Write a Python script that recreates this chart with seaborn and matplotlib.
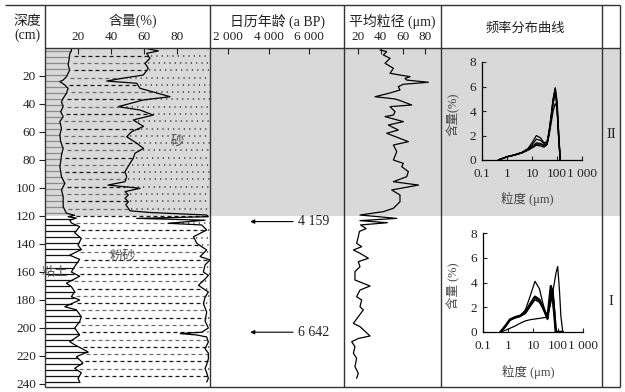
import numpy as np
import pandas as pd
import matplotlib
matplotlib.use("Agg")
import matplotlib.pyplot as plt
import seaborn as sns
from matplotlib.ticker import NullLocator

# ---------------- data ----------------
depth_ticks = [20, 40, 60, 80, 100, 120, 140, 160, 180, 200, 220, 240]
zone_boundary = 120
zone_names = ["II", "I"]
zone_label_depths = [62, 181]

# cumulative clay content (%) vs depth (cm)
clay_depth = [0, 2, 4, 7.5, 12, 15.7, 20.5, 22.9, 24, 26.4,
              28.8, 32.4, 35.9, 38.3, 41.9, 45.5, 49, 52.6, 57.4, 62,
              66.9, 71.7, 76.4, 81.2, 84.8, 91.9, 96.7, 101.4, 106.2, 113.4,
              118, 119.5, 120.5, 121.5, 123, 125, 127.6, 132, 136, 140.7,
              144, 148, 151, 156, 160, 163, 168, 170.5, 174, 177.6,
              180, 184.8, 187, 192, 195.5, 200, 205, 209.8, 212, 217,
              220.5, 225, 228.8, 232, 236, 238.4]
clay_pct = [16, 16, 15, 14.7, 14, 15, 13, 11, 9, 12,
            14, 13, 11, 10, 11, 9.5, 11, 9, 10, 9,
            9.5, 11, 10, 9.5, 9, 10, 12, 10, 11, 11,
            13, 18, 14, 19, 15, 16, 21, 18, 22, 20,
            22, 15, 21, 18, 16, 21, 13, 16, 18, 16,
            21, 12, 19, 22, 21, 18, 21, 15, 18, 26,
            19, 23, 18, 22, 20, 21]

# cumulative clay + silt content (%) vs depth (cm)
silt_depth = [0, 2.1, 3.8, 7.4, 10.9, 14.5, 19.3, 21.7, 23.6, 25.2,
              28.8, 34.8, 37.1, 41.9, 44.3, 47.9, 51.4, 56, 59.8, 63.4,
              68, 71.7, 75.2, 78.8, 82.4, 88.3, 92, 95.5, 97.9, 100.2,
              102.6, 105, 107.4, 109.8, 112, 114.5, 116.3, 117.5, 119.3,
              120.5, 121.7, 123, 125.2, 126.4, 130, 134.8, 139.5, 144.3, 149,
              151.4, 155, 160, 162.4, 165, 169.5, 174.3, 178, 182.6, 188.6,
              195, 200, 203, 204, 205, 206.4, 210, 214.8, 218, 222,
              226, 229, 232, 236, 238.6]
clay_silt_pct = [60, 68.7, 61.6, 63.6, 60.6, 62.6, 59.6, 46.5, 37.4, 55.6,
                 57.6, 75.8, 59.6, 44.4, 57.6, 65.6, 53.5, 59.7, 52.5, 49.5,
                 55.6, 59.7, 54.5, 53.5, 51.5, 48.5, 49.5, 48.5, 38.2, 57.6,
                 48.5, 50.5, 48.5, 50.5, 49, 50.5, 51.5, 63.6, 98,
                 99, 55.6, 97, 74.7, 95, 98, 90, 92, 98, 94,
                 100, 97, 96, 99, 97, 93, 99, 97, 96, 98,
                 97, 99, 95, 82, 92, 98, 99, 97, 99, 99,
                 98, 97, 98, 99, 98]

# mean grain size (um) vs depth (cm)
grain_depth = [1.4, 2.6, 5, 7.4, 10.9, 14.5, 18.1, 20.5, 21.7, 22.9,
               24.5, 25.9, 27.6, 30, 32.2, 34.8, 36.3, 37.1, 40.7, 41.9,
               45.5, 47.9, 49, 52.6, 55, 58.6, 60.9, 66.9, 69.3, 74,
               80, 82.4, 84.8, 88.3, 91.9, 95.5, 97.9, 101.4, 105, 109.8,
               114.5, 116.9, 119.3, 121.7, 123.3, 124.8, 126.4, 129, 131, 134.8,
               139.5, 141.9, 144.3, 146.6, 150.2, 152.6, 156.2, 159.8, 165.7, 170,
               172.9, 177.6, 180, 184.8, 187.1, 191.9, 196.7, 199, 205.7, 207.5,
               209.8, 213.4, 218.1, 221.6, 227.6, 232.4, 235.9]
grain_mean = [39.4, 45.4, 42.4, 48.4, 43.9, 51.4, 48.4, 66.3, 61.8, 63.3,
              82.7, 60.3, 55.8, 57.3, 48, 35, 52, 55.8, 67.8, 48.4,
              52.9, 51.4, 43.9, 60.3, 46.9, 55.8, 45.4, 64.8, 51.4, 54.4,
              51.4, 60.3, 58.9, 64.8, 63.3, 51.4, 73.9, 49.9, 57.3, 57.3,
              51.4, 42.4, 21.5, 54.4, 21.5, 46, 22, 27, 21, 20,
              18.5, 23, 15.6, 21.5, 29, 20, 21.5, 17, 17, 30.5,
              21.5, 18.5, 23, 21.5, 24.5, 20, 15.6, 21.5, 30.5, 20,
              14.1, 17, 15.6, 18.5, 17, 20, 18.5]

# calendar ages
ages_bp = [4159, 6642]
age_depths = [124, 203]

# frequency distribution curves, zone II
sizes_II = [0.45, 1, 2, 4, 7, 10, 15, 22, 30, 40, 48, 58, 70, 85, 100, 118, 135]
freq_II_a = [0, 0.27, 0.42, 0.62, 0.95, 1.4, 2.0, 1.8, 1.4, 1.5, 2.3, 3.6, 5.0, 5.9, 4.2, 1.5, 0]
freq_II_b = [0, 0.27, 0.42, 0.62, 0.9, 1.25, 1.7, 1.6, 1.35, 1.45, 2.2, 3.5, 4.9, 5.7, 4.4, 1.7, 0]
freq_II_c = [0, 0.26, 0.4, 0.6, 0.85, 1.1, 1.4, 1.35, 1.2, 1.35, 2.1, 3.3, 4.6, 5.4, 4.6, 1.9, 0]
freq_II_d = [0, 0.25, 0.4, 0.58, 0.8, 0.98, 1.2, 1.15, 1.05, 1.25, 2.0, 3.0, 4.0, 4.6, 4.3, 2.0, 0]
freq_II_e = [0, 0.26, 0.41, 0.6, 0.85, 1.05, 1.3, 1.3, 1.15, 1.3, 2.25, 3.4, 4.8, 5.8, 4.8, 1.8, 0]

# frequency distribution curves, zone I
sizes_I = [0.5, 0.8, 1.2, 2, 3, 5, 8, 12, 18, 25, 38, 52, 62, 72, 82, 97, 115, 130, 155]
freq_I_a = [0, 0.5, 1.0, 1.2, 1.3, 1.8, 3.0, 4.1, 3.5, 2.3, 1.0, 3.6, 2.5, 1.2, 0, 0, 0, 0, 0]
freq_I_b = [0, 0.5, 1.0, 1.2, 1.3, 1.6, 2.3, 2.85, 2.6, 2.0, 1.1, 3.7, 2.8, 1.4, 0, 0, 0, 0, 0]
freq_I_c = [0, 0.45, 0.95, 1.15, 1.25, 1.5, 2.1, 2.6, 2.4, 1.9, 1.2, 3.1, 3.3, 1.6, 0, 0, 0, 0, 0]
freq_I_d = [0, 0.5, 1.0, 1.2, 1.3, 1.6, 2.2, 2.75, 2.5, 2.0, 1.3, 2.6, 3.5, 1.8, 0.1, 0, 0, 0, 0]
freq_I_e = [0, 0.15, 0.3, 0.5, 0.7, 0.9, 1.0, 1.05, 1.1, 1.15, 1.2, 2.4, 3.3, 4.0, 4.7, 5.3, 3.3, 1.3, 0]

size_ticks = [0.1, 1, 10, 100, 1000]
size_ticklabels = ["0.1", "1", "10", "100", "1 000"]

# ---------------- style ----------------
sns.set_style("white")
plt.rcParams["font.family"] = ["Liberation Serif", "Noto Sans CJK SC", "DejaVu Sans"]
plt.rcParams["axes.unicode_minus"] = False

W, H = 625, 392
TOP, HDR, BOT = 5, 48, 387
PX_PER_CM = 1.4
DMAX = (BOT - HDR) / PX_PER_CM
GRAY = "#d9d9d9"
LINE = "#333333"
TXT = "#222222"

fig = plt.figure(figsize=(6.25, 3.92), dpi=100)


def rect(x0, y0, x1, y1):
    return [x0 / W, 1 - y1 / H, (x1 - x0) / W, (y1 - y0) / H]


def panel(x0, x1, xlim, ticks=None, ticklabels=None):
    ax = fig.add_axes(rect(x0, HDR, x1, BOT))
    ax.set_facecolor("none")
    ax.set_xlim(*xlim)
    ax.set_ylim(DMAX, 0)
    for s in ax.spines.values():
        s.set_visible(False)
    ax.axhspan(0, zone_boundary, color=GRAY, lw=0, zorder=0)
    ax.xaxis.tick_top()
    if ticks is not None:
        ax.set_xticks(ticks)
        ax.set_xticklabels(ticklabels)
        ax.tick_params(axis="x", direction="in", length=4, width=0.8,
                       pad=3.5, labelsize=9.5, colors=TXT)
    else:
        ax.set_xticks([])
    ax.set_yticks([])
    ax.grid(False)
    return ax


# ---- content panel ----
ax_c = panel(45, 210, (0, 100), [20, 40, 60, 80], ["20", "40", "60", "80"])
ax_c.set_yticks(depth_ticks)
ax_c.set_yticklabels([str(t) for t in depth_ticks])
ax_c.tick_params(axis="y", left=True, direction="out", length=4.5, width=0.8,
                 pad=2, labelsize=9.5, colors=TXT)

rows_clay = np.arange(2, DMAX - 1, 4.3)
clay_at = np.interp(rows_clay, clay_depth, clay_pct)
clay_cols = ["#8c8c8c" if r < zone_boundary else "#111111" for r in rows_clay]
ax_c.hlines(rows_clay, 0, clay_at, colors=clay_cols, lw=0.9, zorder=1)

rows_silt = np.arange(5.5, 238, 5.2)
silt_start = np.interp(rows_silt, clay_depth, clay_pct) + 2.5
silt_end = np.interp(rows_silt, silt_depth, clay_silt_pct)
for i, (r, a, b) in enumerate(zip(rows_silt, silt_start, silt_end)):
    ax_c.plot([a, b], [r, r], color=("#1a1a1a" if i % 2 == 0 else "#6e6e6e"),
              lw=0.9, dashes=(3.2, 2.4), zorder=1)
    ax_c.plot([b + 1.5, 100], [r, r], color="#3a3a3a", lw=1.1,
              dashes=(0.8, 2.7), zorder=1)

sns.lineplot(x=clay_pct, y=clay_depth, orient="y", estimator=None,
             color="black", lw=0.9, ax=ax_c, zorder=3)
sns.lineplot(x=clay_silt_pct, y=silt_depth, orient="y", estimator=None,
             color="black", lw=0.9, ax=ax_c, zorder=3)
ax_c.set_xlabel("")
ax_c.set_ylabel("")
ax_c.text(80, 67, "砂", fontsize=9.5, color="#555555", ha="center", va="center", zorder=4)
ax_c.text(47, 149, "粉砂", fontsize=9.5, color="#555555", ha="center", va="center", zorder=4)
ax_c.text(6, 160.7, "粘土", fontsize=9.5, color="#555555", ha="center", va="center", zorder=4)

# ---- age panel ----
ax_a = panel(210, 344, (1111, 7728), [2000, 4000, 6000], ["2 000", "4 000", "6 000"])
tr = ax_a.get_yaxis_transform()
for d, age in zip(age_depths, ages_bp):
    ax_a.annotate("", xy=(0.30, d), xytext=(0.62, d), xycoords=tr, textcoords=tr,
                  arrowprops=dict(arrowstyle="-|>", color="black", lw=0.8,
                                  mutation_scale=6, shrinkA=0, shrinkB=0))
    ax_a.text(0.655, d, f"{age:,}".replace(",", " "), transform=tr,
              ha="left", va="center", fontsize=10, color=TXT)

# ---- grain size panel ----
ax_g = panel(344, 441, (7.2, 94), [20, 40, 60, 80], ["20", "40", "60", "80"])
sns.lineplot(x=grain_mean, y=grain_depth, orient="y", estimator=None,
             color="black", lw=0.9, ax=ax_g, zorder=3)
ax_g.set_xlabel("")
ax_g.set_ylabel("")

# ---- frequency panel ----
ax_f = panel(441, 620, (0, 1))
trf = ax_f.get_yaxis_transform()
for name, d in zip(zone_names, zone_label_depths):
    ax_f.text(0.95, d, name, transform=trf, ha="center", va="center",
              fontsize=10.5, color=TXT)


def inset(r, sizes, curves, widths, ylab):
    ax = fig.add_axes(r, zorder=5)
    ax.set_facecolor("none")
    for s in ["top", "right"]:
        ax.spines[s].set_visible(False)
    for s in ["left", "bottom"]:
        ax.spines[s].set_color("black")
        ax.spines[s].set_linewidth(0.9)
    for vals, lw in zip(curves, widths):
        sns.lineplot(x=sizes, y=vals, estimator=None, color="black", lw=lw, ax=ax)
    ax.set_xscale("log")
    ax.set_xlim(0.1, 1000)
    ax.set_ylim(0, 8)
    ax.set_xticks(size_ticks)
    ax.set_xticklabels(size_ticklabels)
    ax.xaxis.set_minor_locator(NullLocator())
    ax.set_yticks([0, 2, 4, 6, 8])
    ax.set_yticklabels(["0", "2", "4", "6", "8"])
    ax.tick_params(axis="x", bottom=True, direction="in", length=3, width=0.8,
                   pad=6, labelsize=9.5, colors=TXT)
    ax.tick_params(axis="y", left=True, direction="in", length=3, width=0.8,
                   pad=4, labelsize=9.5, colors=TXT)
    ax.grid(False)
    ax.set_xlabel("")
    ax.set_ylabel("")
    ax.text(0.45, -0.40, "粒度 (μm)", transform=ax.transAxes, ha="center",
            va="center", fontsize=9, color="#444444")
    ax.text(-0.29, 0.47, ylab, transform=ax.transAxes, ha="center",
            va="center", rotation=90, fontsize=9, color="#444444")
    return ax


inset(rect(482, 62, 582, 160), sizes_II,
      [freq_II_a, freq_II_b, freq_II_c, freq_II_d, freq_II_e],
      [0.9, 0.9, 0.9, 0.9, 1.1], "含量(%)")
inset(rect(483, 233, 583, 332), sizes_I,
      [freq_I_a, freq_I_b, freq_I_c, freq_I_d, freq_I_e],
      [0.9, 1.8, 0.9, 1.1, 0.9], "含量 (%)")

# ---- frame and header ----
ax_fr = fig.add_axes([0, 0, 1, 1], zorder=20)
ax_fr.set_facecolor("none")
ax_fr.set_xlim(0, W)
ax_fr.set_ylim(H, 0)
ax_fr.axis("off")
kw = dict(color=LINE, lw=1.0, solid_capstyle="butt")
ax_fr.plot([5, 620], [TOP, TOP], **kw)
ax_fr.plot([45, 620], [HDR, HDR], **kw)
ax_fr.plot([45, 620], [BOT, BOT], **kw)
for xv in [45, 210, 344, 441, 602, 620]:
    ax_fr.plot([xv, xv], [TOP, BOT], **kw)

hk = dict(ha="center", va="center", fontsize=10, color=TXT)
ax_fr.text(27, 21, "深度", **hk)
ax_fr.text(27, 35, "(cm)", **hk)
ax_fr.text(133, 21, "含量(%)", **hk)
ax_fr.text(277, 21, "日历年龄 (a BP)", **hk)
ax_fr.text(392, 21, "平均粒径 (μm)", **hk)
ax_fr.text(525, 29, "频率分布曲线", ha="center", va="center", fontsize=9.5, color=TXT)

fig.savefig("out.png", dpi=100)
